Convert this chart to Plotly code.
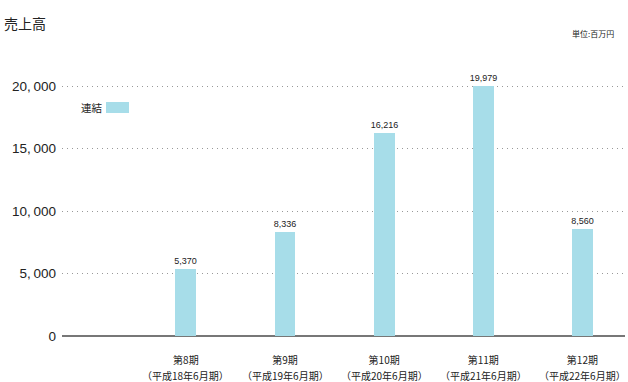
import plotly.graph_objects as go

period_labels = ["第8期", "第9期", "第10期", "第11期", "第12期"]
fiscal_labels = ["（平成18年6月期）", "（平成19年6月期）", "（平成20年6月期）",
                 "（平成21年6月期）", "（平成22年6月期）"]
values = [5370, 8336, 16216, 19979, 8560]
value_labels = ["5,370", "8,336", "16,216", "19,979", "8,560"]
y_ticks = [0, 5000, 10000, 15000, 20000]
y_tick_labels = ["0", "5,\u2009000", "10,\u2009000", "15,\u2009000", "20,\u2009000"]
series_name = "連結"

FONT = "Noto Sans CJK JP"
NUMFONT = "Liberation Sans, Arial, sans-serif"
BAR = "#a7dde9"
x_pos = list(range(len(period_labels)))

L, T, B, R = 62, 61, 46, 3
PW, PH = 628 - L - R, 382 - T - B

fig = go.Figure()
fig.add_trace(go.Bar(
    x=x_pos, y=values, width=0.21, marker=dict(color=BAR, line=dict(width=0)),
    text=value_labels, textposition="outside", cliponaxis=False, constraintext="none",
    textfont=dict(family=NUMFONT, size=9, color="#222"),
    name=series_name, showlegend=False,
))

fig.update_layout(
    width=628, height=382,
    margin=dict(l=L, r=R, t=T, b=B),
    plot_bgcolor="white", paper_bgcolor="white",
    font=dict(family=FONT, color="#222"),
    bargap=0,
    xaxis=dict(range=[-1.25, 4.43], tickmode="array", tickvals=x_pos, ticktext=period_labels,
               showgrid=False, zeroline=False, showline=False, ticks="", ticklabelstandoff=17,
               tickfont=dict(family=FONT, size=10, color="#222")),
    yaxis=dict(range=[0, 22000], tickmode="array", tickvals=y_ticks, ticktext=y_tick_labels,
               showgrid=True, gridcolor="#999", griddash="1px,4px", gridwidth=1,
               zeroline=True, zerolinecolor="#777", zerolinewidth=1.5,
               showline=False, ticks="", ticklabelstandoff=5,
               tickfont=dict(family=NUMFONT, size=13.5, color="#222")),
    showlegend=False,
)

for xi, lab in zip(x_pos, fiscal_labels):
    fig.add_annotation(text=lab, xref="x", yref="paper", x=xi, y=-(375 - 336) / PH,
                       xanchor="center", yanchor="middle", showarrow=False,
                       font=dict(family=FONT, size=10, color="#222"))

fig.add_annotation(text="売上高", xref="paper", yref="paper", x=-(L - 2) / PW, y=1 + (T - 23) / PH,
                   xanchor="left", yanchor="middle", showarrow=False,
                   font=dict(family=FONT, size=14, color="#222"))
fig.add_annotation(text="単位:百万円", xref="paper", yref="paper", x=(616 - L) / PW, y=1 + (T - 33) / PH,
                   xanchor="right", yanchor="middle", showarrow=False,
                   font=dict(family=FONT, size=8, color="#222"))
# legend
fig.add_annotation(text=series_name, xref="paper", yref="paper", x=(79 - L) / PW, y=(336 - 107) / PH,
                   xanchor="left", yanchor="middle", showarrow=False,
                   font=dict(family=FONT, size=10.5, color="#222"))
fig.add_shape(type="rect", xref="paper", yref="paper",
              x0=(106 - L) / PW, x1=(129 - L) / PW,
              y0=(336 - 113) / PH, y1=(336 - 102) / PH,
              fillcolor=BAR, line=dict(width=0))

fig.write_html("out.html", config={"displayModeBar": False},
               post_script="document.body.style.margin='0';")
